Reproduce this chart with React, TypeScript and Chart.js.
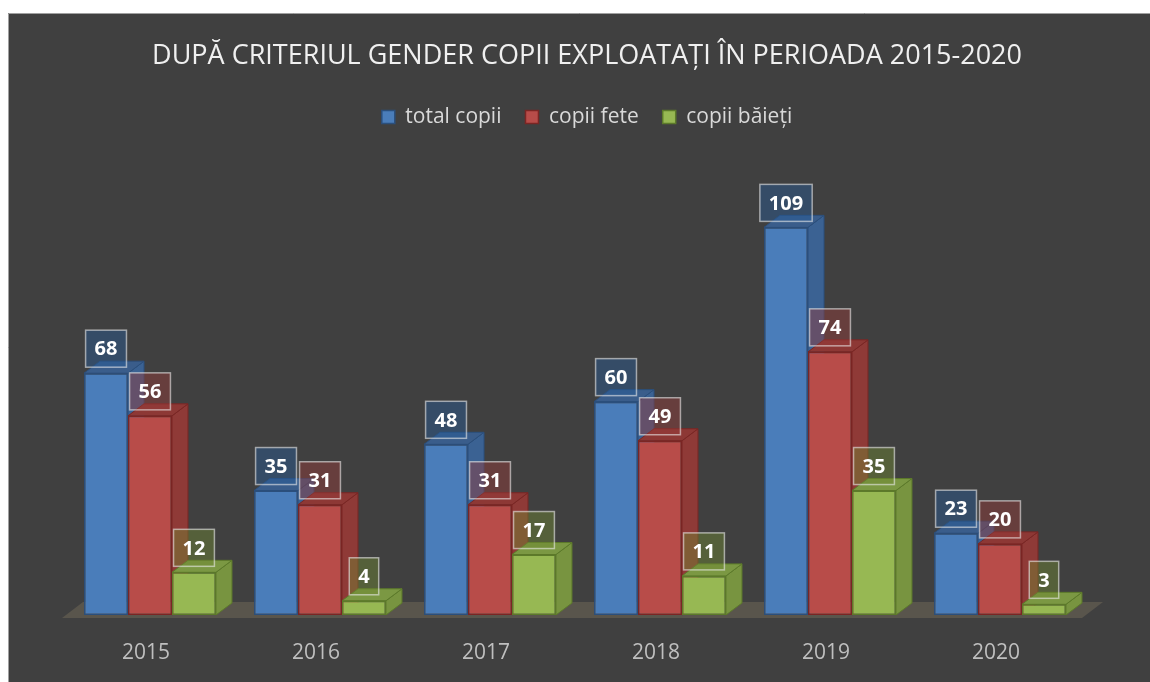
import React, { useEffect, useRef } from 'react';
import { Chart, registerables } from 'chart.js';

Chart.register(...registerables);

const TITLE = 'DUPĂ CRITERIUL GENDER COPII EXPLOATAȚI ÎN PERIOADA 2015-2020';
const years = ['2015', '2016', '2017', '2018', '2019', '2020'];
const seriesNames = ['total copii', 'copii fete', 'copii băieți'];
const totalCopii = [68, 35, 48, 60, 109, 23];
const copiiFete = [56, 31, 31, 49, 74, 20];
const copiiBaieti = [12, 4, 17, 11, 35, 3];

const FACES = [
  { front: '#4a7dba', side: '#3b6293', top: '#3a5d8b', border: '#2b4f7c', label: 'rgba(40,90,150,0.45)' },
  { front: '#b84c49', side: '#8f3a37', top: '#8d3835', border: '#7a2624', label: 'rgba(150,60,58,0.45)' },
  { front: '#97b853', side: '#789440', top: '#7b9843', border: '#5c7a2a', label: 'rgba(110,135,50,0.45)' },
];

const DX = 16;
const DY = 12;

const bgPlugin = {
  id: 'bgPlugin',
  beforeDraw(chart: any) {
    const { ctx, width, height } = chart;
    ctx.save();
    ctx.fillStyle = '#404040';
    ctx.fillRect(0, 0, width, height);
    ctx.strokeStyle = '#a0a0a0';
    ctx.lineWidth = 1;
    ctx.beginPath();
    ctx.moveTo(0.5, height);
    ctx.lineTo(0.5, 0.5);
    ctx.lineTo(width, 0.5);
    ctx.stroke();
    ctx.restore();
  },
};

const bars3d = {
  id: 'bars3d',
  beforeDatasetsDraw(chart: any) {
    const { ctx, chartArea } = chart;
    const { left, right } = chartArea;
    const zero = chart.scales.y.getPixelForValue(0);
    ctx.save();
    ctx.fillStyle = '#59554c';
    ctx.beginPath();
    ctx.moveTo(left - 3, zero + 3);
    ctx.lineTo(right - 3, zero + 3);
    ctx.lineTo(right + 18, zero - 13);
    ctx.lineTo(left + 18, zero - 13);
    ctx.closePath();
    ctx.fill();
    ctx.lineWidth = 1;
    chart.data.datasets.forEach((_ds: any, i: number) => {
      const meta = chart.getDatasetMeta(i);
      const f = FACES[i];
      meta.data.forEach((bar: any) => {
        const { x, y, base, width } = bar.getProps(['x', 'y', 'base', 'width'], true);
        const x1 = x - width / 2;
        const x2 = x + width / 2;
        ctx.strokeStyle = f.border;
        ctx.fillStyle = f.side;
        ctx.beginPath();
        ctx.moveTo(x2, y);
        ctx.lineTo(x2 + DX, y - DY);
        ctx.lineTo(x2 + DX, base - DY);
        ctx.lineTo(x2, base);
        ctx.closePath();
        ctx.fill();
        ctx.stroke();
        ctx.fillStyle = f.top;
        ctx.beginPath();
        ctx.moveTo(x1, y);
        ctx.lineTo(x1 + DX, y - DY);
        ctx.lineTo(x2 + DX, y - DY);
        ctx.lineTo(x2, y);
        ctx.closePath();
        ctx.fill();
        ctx.stroke();
      });
    });
    ctx.restore();
  },
  afterDatasetsDraw(chart: any) {
    const { ctx } = chart;
    ctx.save();
    ctx.font = "bold 20px 'Open Sans', sans-serif";
    ctx.textAlign = 'center';
    ctx.textBaseline = 'middle';
    chart.data.datasets.forEach((ds: any, i: number) => {
      const meta = chart.getDatasetMeta(i);
      const f = FACES[i];
      meta.data.forEach((bar: any, j: number) => {
        const { x, y } = bar.getProps(['x', 'y'], true);
        const text = String(ds.data[j]);
        const w = ctx.measureText(text).width + 18;
        const h = 37;
        const bx = x - w / 2;
        const by = y - 6 - h;
        ctx.fillStyle = f.label;
        ctx.fillRect(bx, by, w, h);
        ctx.strokeStyle = 'rgba(235,235,235,0.6)';
        ctx.lineWidth = 1.5;
        ctx.strokeRect(bx, by, w, h);
        ctx.fillStyle = '#ffffff';
        ctx.fillText(text, x, by + h / 2 + 1);
      });
    });
    ctx.restore();
  },
};

export default function App() {
  const ref = useRef<HTMLCanvasElement | null>(null);
  useEffect(() => {
    if (!ref.current) return;
    Chart.defaults.font.family = "'Open Sans', sans-serif";
    const seriesData = [totalCopii, copiiFete, copiiBaieti];
    const chart = new Chart(ref.current, {
      type: 'bar',
      data: {
        labels: years,
        datasets: seriesNames.map((name, i) => ({
          label: name,
          data: seriesData[i],
          backgroundColor: FACES[i].front,
          borderColor: FACES[i].border,
          borderWidth: 1.5,
          borderSkipped: false,
          categoryPercentage: 0.776,
          barPercentage: 1,
        })),
      },
      options: {
        animation: false,
        responsive: false,
        devicePixelRatio: 1,
        layout: { padding: { left: 16, right: 0, top: 0, bottom: 19 } },
        plugins: {
          title: {
            display: true,
            text: TITLE,
            color: '#f0f0f0',
            font: { size: 27, weight: 'normal' },
            padding: { top: 27, bottom: 10 },
          },
          legend: {
            display: true,
            labels: {
              color: '#d9d9d9',
              font: { size: 21 },
              boxWidth: 13,
              boxHeight: 13,
              padding: 24,
            },
          },
          tooltip: { enabled: false },
        },
        scales: {
          x: {
            ticks: { color: '#bfbfbf', font: { size: 21 }, padding: 25, labelOffset: -4 },
            grid: { display: false, drawTicks: false },
            border: { display: false },
            afterFit(s: any) { s.height = 48; },
          },
          y: {
            min: 0,
            max: 134.3,
            ticks: { display: false },
            grid: { display: false, drawTicks: false },
            border: { display: false },
            afterFit(s: any) { s.width = 41; },
          },
          y2: {
            type: 'linear',
            position: 'right',
            min: 0,
            max: 1,
            ticks: { display: false },
            grid: { display: false, drawTicks: false },
            border: { display: false },
            afterFit(s: any) { s.width = 65; },
          },
        },
      } as any,
      plugins: [bgPlugin, bars3d],
    });
    return () => chart.destroy();
  }, []);
  return (
    <div style={{ position: 'fixed', left: 8, top: 13, width: 1142, height: 669 }}>
      <canvas ref={ref} width={1142} height={669} />
    </div>
  );
}
